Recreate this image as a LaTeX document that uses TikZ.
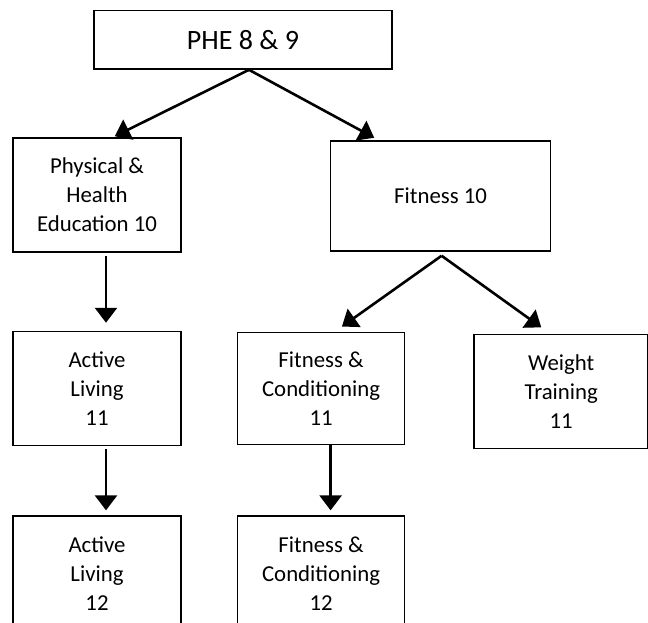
\documentclass[tikz,border=0pt]{standalone}
\usepackage{fontspec}
\setmainfont{Carlito}
\usepackage{tikz}
\usetikzlibrary{positioning,arrows.meta,calc}
\tikzset{
    course/.style={rectangle, draw, line width=0.8pt, inner sep=2pt, align=center, minimum width=84pt, minimum height=57pt, font=\fontsize{11.4}{14.5}\selectfont},
    topcourse/.style={course, minimum width=149pt, minimum height=29.25pt, font=\fontsize{14}{17}\selectfont},
    arrow/.style={-{Triangle[length=7.5pt,width=11pt]}, line width=1.3pt}
}
\begin{document}
\begin{tikzpicture}
    \useasboundingbox (-121.5pt,19.875pt) rectangle (202.5pt,-291.125pt);
    \node[topcourse] (phe89) at (0,0) {PHE 8 \& 9};
    \node[course] (phe10) at (-73pt,-77.6pt) {Physical \&\\ Health\\ Education 10};
    \node[course, minimum width=110pt, minimum height=55pt, right=74pt of phe10, yshift=-0.5pt] (fit10) {\raisebox{-1.5pt}{Fitness 10}};
    \node[course, below=39pt of phe10] (al11) {Active\\ Living\\ 11};
    \node[course, minimum width=83.5pt, minimum height=56pt, right=27.5pt of al11] (fc11) {Fitness \&\\ Conditioning\\ 11};
    \node[course, minimum width=87pt, right=34pt of fc11, yshift=-1.5pt] (wt11) {Weight\\ Training\\ 11};
    \node[course, below=34.5pt of al11] (al12) {Active\\ Living\\ 12};
    \node[course, minimum width=83.5pt, below=35pt of fc11] (fc12) {Fitness \&\\ Conditioning\\ 12};
    % grade 8/9 to grade 10
    \draw[arrow, shorten >=1pt] ($(phe89.south)+(3pt,0)$) -- ($(phe10.north)+(8pt,0)$);
    \draw[arrow, shorten >=2.5pt] ($(phe89.south)+(3pt,0)$) -- ($(fit10.north)+(-31pt,0)$);
    % grade 10 to grade 11
    \draw[arrow, shorten <=1.5pt, shorten >=4pt] ($(phe10.south)+(4.5pt,0)$) -- ($(al11.north)+(4.5pt,0)$);
    \draw[arrow, shorten >=4.5pt] ($(fit10.south)+(0.5pt,-2pt)$) -- ($(fc11.north)+(6.75pt,0)$);
    \draw[arrow, shorten >=5.5pt] ($(fit10.south)+(0.5pt,-2pt)$) -- ($(wt11.north)+(-5.5pt,0)$);
    % grade 11 to grade 12
    \draw[arrow, shorten <=1.5pt, shorten >=2.5pt] ($(al11.south)+(4.5pt,0)$) -- ($(al12.north)+(4.5pt,0)$);
    \draw[arrow, shorten >=2.5pt] ($(fc11.south)+(4.75pt,0)$) -- ($(fc12.north)+(4.75pt,0)$);
\end{tikzpicture}
\end{document}
